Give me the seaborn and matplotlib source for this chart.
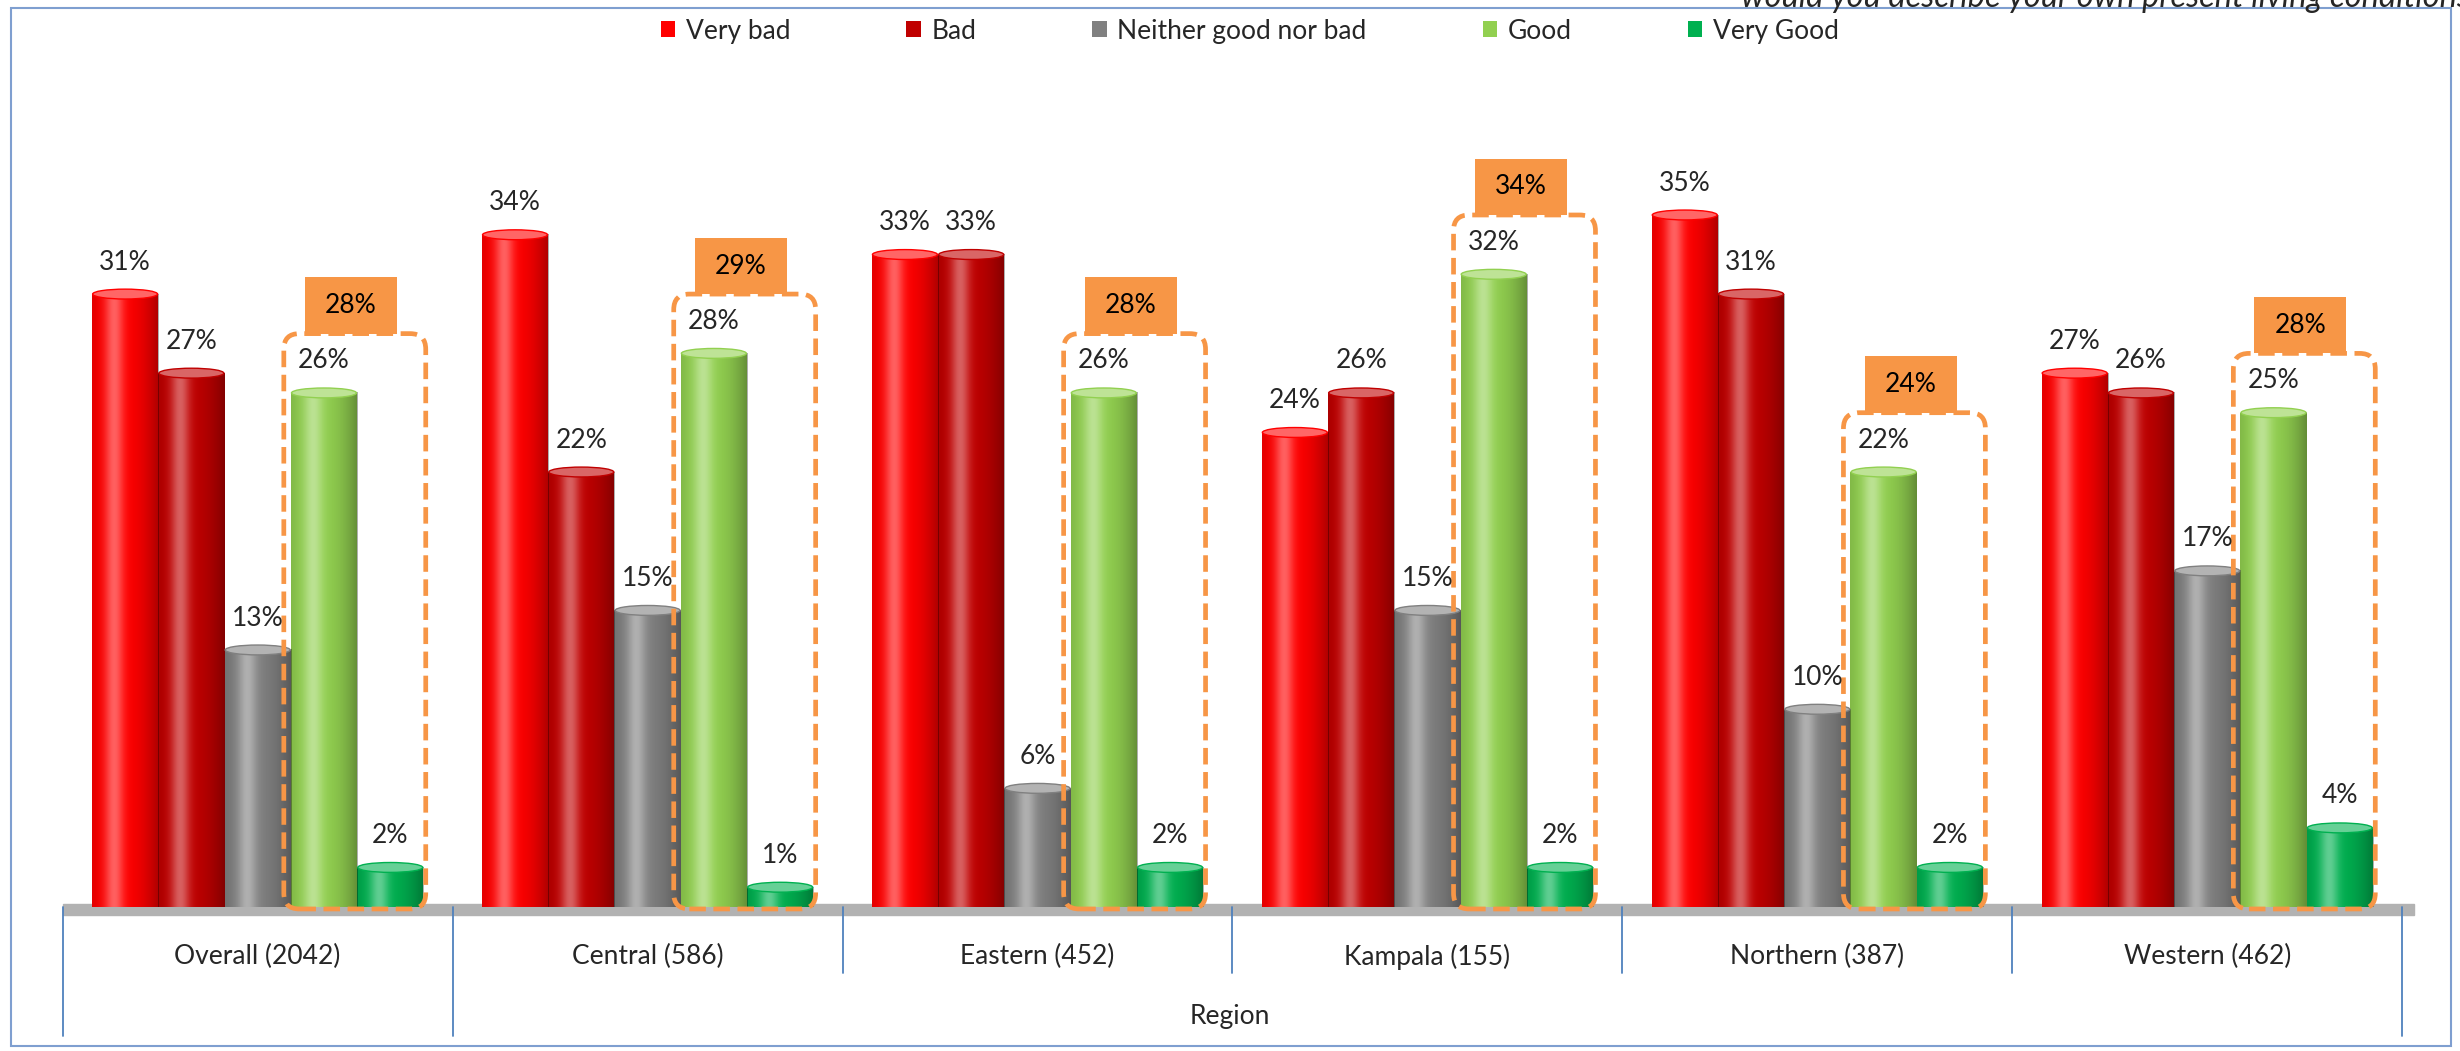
import numpy as np
import pandas as pd
import matplotlib
matplotlib.use("Agg")
import matplotlib.pyplot as plt
import matplotlib.colors as mcolors
import matplotlib.transforms as mtransforms
from matplotlib.patches import FancyBboxPatch, Ellipse, Rectangle
import seaborn as sns

# ── Data ──────────────────────────────────────────────
regions = ["Overall (2042)", "Central (586)", "Eastern (452)",
           "Kampala (155)", "Northern (387)", "Western (462)"]
ratings = ["Very bad", "Bad", "Neither good nor bad", "Good", "Very Good"]
very_bad = [31, 34, 33, 24, 35, 27]
bad = [27, 22, 33, 26, 31, 26]
neither = [13, 15, 6, 15, 10, 17]
good = [26, 28, 26, 32, 22, 25]
very_good = [2, 1, 2, 2, 2, 4]
good_total = [28, 29, 28, 34, 24, 28]   # Good + Very Good

colors = ["#FF0000", "#C00000", "#808080", "#92D050", "#00B050"]
ORANGE = "#F79646"

df = pd.DataFrame({"region": regions, "Very bad": very_bad, "Bad": bad,
                   "Neither good nor bad": neither, "Good": good, "Very Good": very_good})
df = df.melt(id_vars="region", var_name="rating", value_name="pct")

sns.set_style("white")
plt.rcParams["font.family"] = ["Lato", "DejaVu Sans"]
FS = 19

W, H = 2460, 1051
fig = plt.figure(figsize=(W / 100, H / 100), dpi=100)
ax = fig.add_axes([0.0255, 0.1295, 0.951, 0.760])

sns.barplot(data=df, x="region", y="pct", hue="rating", order=regions,
            hue_order=ratings, palette=colors, saturation=1, width=0.85,
            linewidth=0, zorder=2, ax=ax)

handles, labels = ax.get_legend_handles_labels()
ax.get_legend().remove()

# cylinder shading
t = np.linspace(0, 1, 64)
hi = np.zeros((1, 64, 4)); hi[..., :3] = 1
hi[0, :, 3] = 0.38 * np.exp(-((t - 0.33) / 0.14) ** 2)
dk = np.zeros((1, 64, 4))
dk[0, :, 3] = 0.32 * np.abs((t - 0.38) / 0.62) ** 2.2

for cont, col in zip(ax.containers, colors):
    cap = mcolors.to_rgb(col)
    cap = tuple(0.6 * np.array(cap) + 0.4)
    for bar in cont:
        x0, w, h = bar.get_x(), bar.get_width(), bar.get_height()
        ax.imshow(dk, extent=[x0, x0 + w, 0, h], aspect="auto", zorder=2.1,
                  interpolation="bicubic")
        ax.imshow(hi, extent=[x0, x0 + w, 0, h], aspect="auto", zorder=2.2,
                  interpolation="bicubic")
        ax.add_patch(Ellipse((x0 + w / 2, h), w * 0.98, 0.5, facecolor=cap,
                             edgecolor=col, lw=1, zorder=2.3))
    ax.bar_label(cont, fmt="{:.0f}%", padding=14, fontsize=FS, zorder=6)

ax.set_xlim(-0.5, 5.5)
ax.set_ylim(-0.4, 40)

# floor
ax.axhspan(-0.4, 0.15, xmin=0, xmax=1.005, color="#B2B2B2", zorder=1, clip_on=False)

# dashed boxes around Good + Very Good
asp = (0.951 * W / 6) / (0.760 * H / 40.4)
for i in range(len(regions)):
    gbar = ax.containers[3][i]
    vbar = ax.containers[4][i]
    x0 = gbar.get_x() - 0.018
    x1 = vbar.get_x() + vbar.get_width() + 0.006
    top = good[i] + 3.0
    ax.add_patch(FancyBboxPatch((x0, -0.1), x1 - x0, top + 0.1,
                                boxstyle="round,pad=0,rounding_size=0.04",
                                mutation_aspect=asp, fill=False, edgecolor=ORANGE,
                                lw=3.4, linestyle=(0, (3.5, 1.6)), zorder=4))
    cx = (x0 + x1) / 2 - 0.01
    ax.add_patch(Rectangle((cx - 0.118, top), 0.236, 2.85, facecolor=ORANGE,
                           edgecolor="none", zorder=5))
    ax.text(cx, top + 1.42, f"{good_total[i]}%", ha="center", va="center",
            fontsize=FS, color="black", zorder=6)

# axes cosmetics
sns.despine(ax=ax, left=True, bottom=True, top=True, right=True)
ax.set_yticks([])
ax.set_xlabel("")
ax.set_ylabel("")
ax.set_xticks(range(len(regions)))
ax.set_xticklabels(regions, fontsize=FS)
ax.tick_params(axis="x", length=0, pad=21)

# category separators
trans = mtransforms.blended_transform_factory(ax.transData, fig.transFigure)
for xb in np.arange(-0.5, 6, 1.0):
    y_end = 0.0143 if xb in (-0.5, 0.5, 5.5) else 0.0742
    ax.plot([xb, xb], [0.137, y_end], transform=trans, color="#4F81BD",
            lw=1.3, clip_on=False, scalex=False, scaley=False)

fig.text(0.5, 0.0330, "Region", ha="center", va="center", fontsize=FS)

fig.legend(handles, labels, loc="center", bbox_to_anchor=(0.508, 0.9705), ncol=5,
           frameon=False, fontsize=FS, handlelength=0.55, handleheight=0.55,
           handletextpad=0.4, columnspacing=4.4)

# outer border + clipped title line
fig.add_artist(Rectangle((0.0045, 0.0048), 0.9919, 0.9876, transform=fig.transFigure,
                         fill=False, edgecolor="#7F9FD0", lw=1.5))
fig.text(0.7077, 0.9935, "would you describe your own present living conditions?",
         fontsize=23.5, style="italic", ha="left", va="baseline")

fig.savefig("out.png", dpi=100)
